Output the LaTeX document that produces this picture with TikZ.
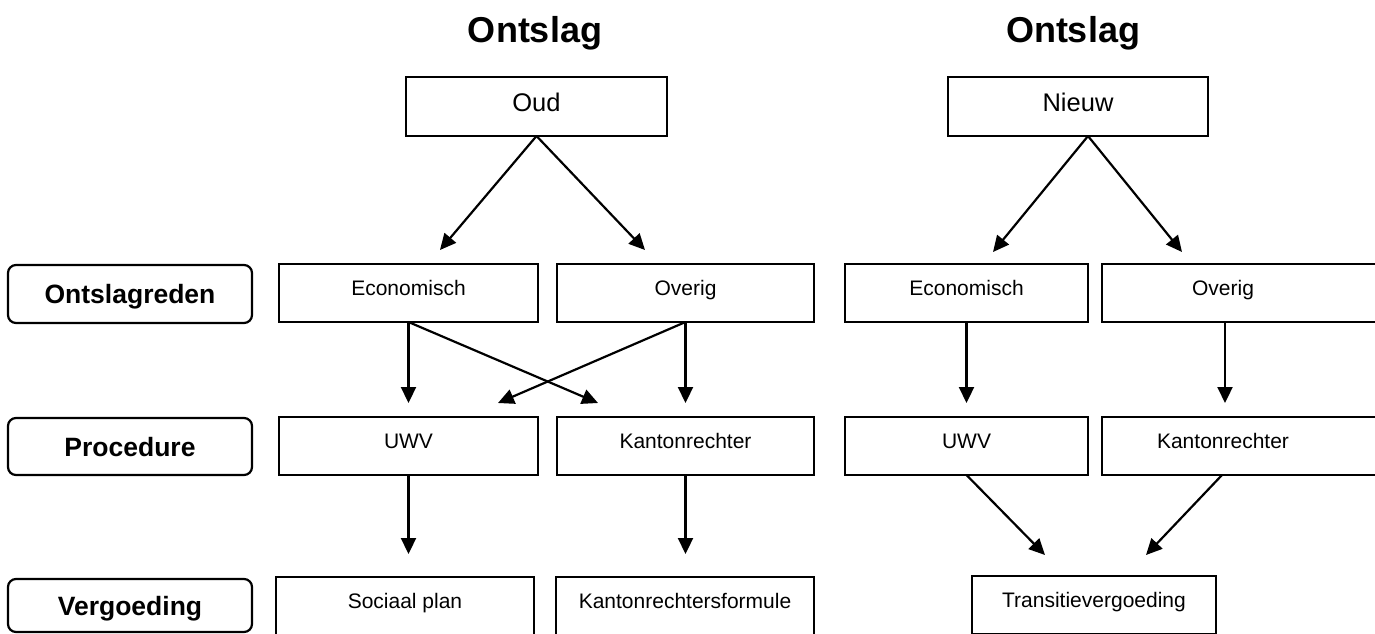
\documentclass[tikz,border=0pt]{standalone}
\usepackage{fontspec}
\setmainfont{Liberation Sans}
\usetikzlibrary{arrows.meta}
\begin{document}
\begin{tikzpicture}[x=1pt,y=-1pt,
  every node/.style={inner sep=0pt, outer sep=0pt},
  box/.style={draw, line width=2.2pt, minimum height=58pt, text height=14pt, text depth=10pt, font=\fontsize{21}{21}\selectfont},
  topbox/.style={draw, line width=2.2pt, minimum height=59pt, text height=18pt, text depth=8pt, font=\fontsize{25.5}{25.5}\selectfont},
  labelbox/.style={draw, line width=2.2pt, rounded corners=8pt, minimum width=244pt, text height=19pt, text depth=0pt, font=\fontsize{26.5}{26.5}\selectfont\bfseries},
  titletext/.style={anchor=base, font=\fontsize{36}{36}\selectfont\bfseries},
  arr/.style={line width=2.2pt, -{Triangle[length=16pt,width=15pt]}}
]
\useasboundingbox (0,0) rectangle (1375,633);
\clip (0,0) rectangle (1375,633);

% titles
\node[titletext] (t1) at (535,42) {Ontslag};
\node[titletext] (t2) at (1073,42) {Ontslag};

% top boxes
\node[topbox, minimum width=261pt] (oud) at (536.5,106.5) {Oud};
\node[topbox, minimum width=260pt] (nieuw) at (1078,106.5) {Nieuw};

% left labels
\node[labelbox, minimum height=58pt] (lab1) at (130,294) {Ontslagreden};
\node[labelbox, minimum height=57pt] (lab2) at (130,446.5) {Procedure};
\node[labelbox, minimum height=53pt] (lab3) at (130,605.5) {Vergoeding};

% old scheme
\node[box, minimum width=259pt] (econL) at (408.5,293) {Economisch};
\node[box, minimum width=257pt] (overL) at (685.5,293) {Overig};
\node[box, minimum width=259pt] (uwvL) at (408.5,446) {UWV};
\node[box, minimum width=257pt] (kanL) at (685.5,446) {Kantonrechter};
\node[box, minimum width=258pt] (socL) at (405,606) {Sociaal plan};
\node[box, minimum width=258pt] (kfL) at (685,606) {Kantonrechtersformule};

% new scheme
\node[box, minimum width=243pt] (econR) at (966.5,293) {Economisch};
\node[box, minimum width=298pt] (overR) at (1251,293) {\makebox[298pt][l]{\makebox[242pt]{Overig}}};
\node[box, minimum width=243pt] (uwvR) at (966.5,446) {UWV};
\node[box, minimum width=298pt] (kanR) at (1251,446) {\makebox[298pt][l]{\makebox[242pt]{Kantonrechter}}};
\node[box, minimum width=244pt] (trans) at (1094,605) {Transitievergoeding};

% free arrow ends
\coordinate (oa) at (440,250);
\coordinate (ob) at (645,250);
\coordinate (na) at (993,252);
\coordinate (nb) at (1182,252);
\coordinate (e1) at (408.5,403);
\coordinate (e2) at (598,403);
\coordinate (o1) at (498,403);
\coordinate (o2) at (685.5,403);
\coordinate (u1) at (408.5,554);
\coordinate (k1) at (685.5,554);
\coordinate (er) at (966.5,403);
\coordinate (or) at (1225,403);
\coordinate (ur) at (1045,555);
\coordinate (kr) at (1146,555);

% arrows
\draw[arr] (oud.south) -- (oa);
\draw[arr] (oud.south) -- (ob);
\draw[arr] ([xshift=10pt]nieuw.south) -- (na);
\draw[arr] ([xshift=10pt]nieuw.south) -- (nb);
\draw[arr] (econL.south) -- (e1);
\draw[arr] (econL.south) -- (e2);
\draw[arr] (overL.south) -- (o1);
\draw[arr] (overL.south) -- (o2);
\draw[arr] (uwvL.south) -- (u1);
\draw[arr] (kanL.south) -- (k1);
\draw[arr] (econR.south) -- (er);
\draw[arr] ([xshift=-26pt]overR.south) -- (or);
\draw[arr] (uwvR.south) -- (ur);
\draw[arr] ([xshift=-29pt]kanR.south) -- (kr);
\end{tikzpicture}
\end{document}
